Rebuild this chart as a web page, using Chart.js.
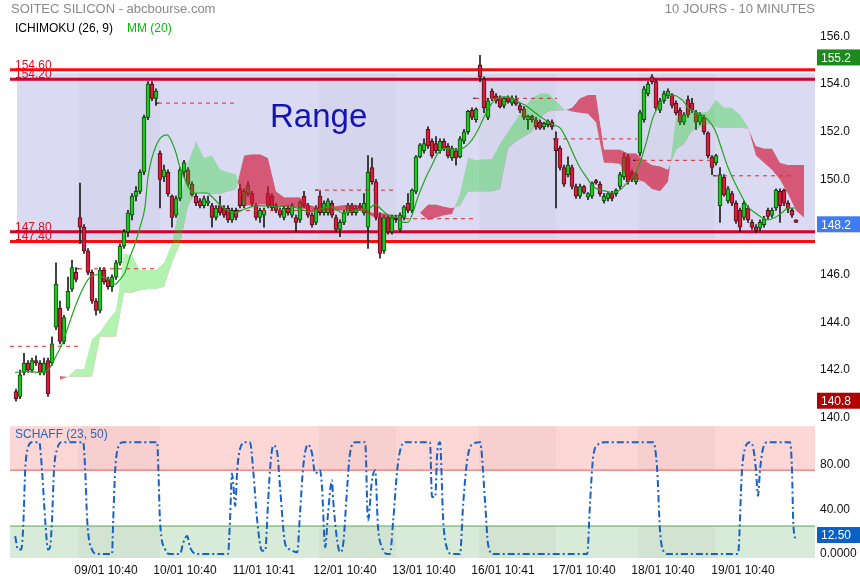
<!DOCTYPE html>
<html>
<head>
<meta charset="utf-8">
<script src="https://cdn.jsdelivr.net/npm/chart.js@4.4.1/dist/chart.umd.min.js"></script>
<style>
  body { margin: 0; background: #fff; font-family: Arial, "Liberation Sans", sans-serif; }
  #wrap { position: relative; width: 860px; height: 580px; overflow: hidden; }
  canvas { position: absolute; left: 0; }
  .t { position: absolute; white-space: nowrap; line-height: 1; z-index: 3; }
</style>
</head>
<body>
<div id="wrap">
  <canvas id="schaff" width="860" height="166" style="top:414px;z-index:1"></canvas>
  <canvas id="main" width="860" height="430" style="top:0;z-index:2"></canvas>
  <div class="t" style="left:11px;top:2px;font-size:13px;color:#888">SOITEC SILICON - abcbourse.com</div>
  <div class="t" style="right:45px;top:2px;font-size:13px;color:#888">10 JOURS - 10 MINUTES</div>
  <div class="t" style="left:15px;top:22px;font-size:12px;color:#000">ICHIMOKU (26, 9)</div>
  <div class="t" style="left:127px;top:22px;font-size:12px;color:#00c000">MM (20)</div>
  <div class="t" style="left:270px;top:99px;font-size:33px;color:#1414b4">Range</div>
  <div class="t" style="left:15px;top:428px;font-size:12px;color:#2a64c0">SCHAFF (23, 50)</div>
</div>
<script>
Chart.defaults.font.family = 'Arial, "Liberation Sans", sans-serif';
Chart.defaults.font.size = 12;
Chart.defaults.color = '#111';
Chart.defaults.animation = false;

// candles: [open, high, low, close], one per slot starting at slot 1
const firstSlot = 1;
const candles = [
  [141.1,141.2,140.7,140.8],[140.9,142.0,140.8,141.8],[141.9,142.7,141.8,142.3],[142.3,142.4,141.9,142.0],
  [142.0,142.5,141.9,142.4],[142.4,142.6,142.2,142.3],[142.3,142.4,141.8,141.9],[141.9,142.5,141.8,142.3],
  [142.4,142.5,140.9,141.0],[142.3,143.4,142.2,143.1],[143.8,146.5,143.7,145.6],[144.6,144.9,143.1,143.2],
  [143.2,144.3,143.1,144.2],[144.6,145.9,144.5,145.3],[145.4,146.6,145.3,146.3],[146.1,146.3,145.7,145.8],
  [148.4,149.85,147.3,148.0],[148.0,148.1,146.9,147.0],[147.0,147.1,146.0,146.1],[146.1,146.2,144.8,144.9],
  [144.9,145.0,144.3,144.5],[144.5,146.3,144.4,146.2],[146.2,146.3,145.6,145.7],[145.8,145.9,145.4,145.5],
  [145.5,146.0,145.3,145.9],[145.9,146.6,145.8,146.5],[146.5,147.3,146.4,147.2],[147.2,147.9,147.1,147.8],
  [147.8,148.7,147.6,148.6],[148.5,149.4,148.3,149.3],[149.3,149.7,149.1,149.5],[149.5,150.4,149.4,150.3],
  [150.3,152.7,150.2,152.6],[152.6,154.1,152.5,154.0],[154.0,154.1,153.3,153.4],[153.4,153.8,153.1,153.7],
  [151.1,151.2,148.8,150.0],[150.1,150.6,149.9,150.4],[150.3,150.4,149.3,149.4],[149.3,149.35,148.0,148.4],
  [148.5,149.3,148.4,149.2],[149.2,150.5,149.1,150.4],[150.3,150.8,150.1,150.7],[150.4,150.5,149.7,149.8],
  [149.8,149.9,149.3,149.35],[149.3,149.4,148.9,149.0],[149.1,149.2,148.8,148.9],[148.9,149.3,148.8,149.2],
  [149.0,149.3,148.9,149.1],[148.9,149.0,148.0,148.4],[148.4,148.9,148.3,148.8],[148.9,149.3,148.5,148.6],
  [148.8,148.9,148.4,148.5],[148.8,148.9,148.2,148.3],[148.3,148.8,148.2,148.7],[148.7,148.8,148.3,148.4],
  [149.6,149.8,148.8,148.9],[148.9,149.6,148.8,149.5],[149.4,149.9,149.3,149.75],[149.4,149.5,148.9,149.0],
  [148.9,149.0,148.3,148.4],[148.4,148.8,148.2,148.7],[148.5,148.8,148.0,148.7],[149.4,149.7,148.8,148.9],
  [149.3,149.4,148.7,148.8],[148.9,149.0,148.6,148.7],[148.7,148.8,148.4,148.5],[148.4,148.9,148.3,148.8],
  [148.8,148.9,148.5,148.6],[148.5,149.0,148.4,148.9],[148.4,148.5,147.8,148.2],[148.3,149.1,148.2,149.05],
  [149.3,149.5,148.8,148.9],[148.9,149.0,148.4,148.5],[148.5,148.6,148.0,148.1],[148.2,148.9,148.1,148.8],
  [149.3,149.5,148.5,148.6],[148.6,149.1,148.5,149.0],[148.6,149.2,148.5,149.1],[149.0,149.1,148.4,148.5],
  [148.4,148.5,147.8,147.9],[147.9,148.3,147.6,148.2],[148.2,148.7,148.1,148.6],[148.6,149.0,148.5,148.9],
  [148.9,149.0,148.5,148.6],[148.6,148.9,148.5,148.8],[148.9,149.0,148.7,148.8],[148.6,149.4,148.5,149.0],
  [148.0,151.0,147.1,150.3],[150.5,150.9,149.8,149.9],[149.9,150.0,148.3,148.4],[148.4,148.6,146.7,146.9],
  [147.0,148.5,146.9,148.4],[148.4,148.5,147.7,147.8],[147.8,148.5,147.7,148.4],[148.4,148.5,148.2,148.3],
  [147.9,148.6,147.8,148.5],[148.4,148.9,148.3,148.85],[149.0,149.4,148.6,148.7],[148.7,149.6,148.6,149.55],
  [149.5,151.0,149.4,150.95],[150.95,151.5,150.9,151.45],[151.2,151.7,151.1,151.5],[152.1,152.2,151.3,151.4],
  [151.6,151.7,150.9,151.0],[151.5,151.8,151.1,151.2],[151.2,151.7,151.1,151.6],[151.6,151.7,151.2,151.3],
  [151.4,151.5,150.9,151.0],[150.9,151.4,150.8,151.3],[151.2,151.3,150.6,150.9],[150.95,151.8,150.9,151.7],
  [151.6,152.1,151.5,152.0],[152.0,152.9,151.9,152.85],[152.9,153.0,152.5,152.6],[152.5,153.0,152.4,152.95],
  [154.8,155.2,154.1,154.3],[154.2,154.3,152.8,153.0],[152.6,153.4,152.5,153.3],[153.7,153.8,153.3,153.4],
  [153.5,153.6,153.2,153.3],[153.4,153.5,153.0,153.05],[153.1,153.45,153.0,153.4],[153.4,153.5,153.2,153.25],
  [153.2,153.5,153.1,153.4],[153.35,153.5,153.1,153.15],[153.1,153.2,152.8,152.9],[152.95,153.05,152.5,152.6],
  [152.5,152.7,152.1,152.65],[152.65,152.7,152.4,152.5],[152.5,152.6,152.1,152.2],[152.4,152.5,152.1,152.15],
  [152.2,152.4,152.1,152.35],[152.3,152.5,152.2,152.45],[152.4,152.5,152.1,152.2],[151.7,152.0,148.8,151.2],
  [151.3,151.4,150.4,150.5],[150.5,150.6,149.7,149.8],[150.2,150.95,150.1,150.6],[150.5,150.6,149.6,149.7],
  [149.7,149.8,149.2,149.3],[149.3,149.8,149.2,149.7],[149.7,149.75,149.4,149.45],[149.25,149.45,149.15,149.4],
  [149.3,149.9,149.2,149.85],[149.95,150.0,149.8,149.85],[149.8,149.9,149.3,149.4],[149.1,149.4,149.0,149.3],
  [149.2,149.45,149.1,149.4],[149.4,149.5,149.1,149.2],[149.4,149.6,149.3,149.55],[149.7,150.3,149.6,150.2],
  [150.1,151.1,150.0,150.95],[150.95,151.05,149.8,149.9],[150.3,150.4,149.9,150.0],[149.9,150.3,149.8,150.2],
  [151.1,152.9,151.0,152.8],[152.5,153.9,152.4,153.8],[153.6,154.1,153.5,154.0],[154.3,154.4,154.0,154.1],
  [154.1,154.2,152.9,153.0],[152.9,153.4,152.8,153.3],[153.3,153.7,153.2,153.6],[153.5,153.8,153.4,153.7],
  [153.55,153.6,153.0,153.1],[153.2,153.3,152.7,152.8],[152.9,153.0,152.3,152.4],[152.4,152.8,152.3,152.7],
  [153.35,153.5,152.6,152.7],[153.2,153.4,152.8,152.9],[152.8,152.9,152.1,152.4],[152.4,152.8,152.3,152.7],
  [152.6,152.7,151.9,152.0],[151.95,152.0,150.9,151.0],[150.95,151.0,150.2,150.5],[150.7,151.05,150.6,151.0],
  [148.9,150.5,148.2,150.2],[150.1,150.2,149.3,149.35],[149.1,149.7,149.0,149.6],[149.4,149.5,148.9,149.0],
  [149.0,149.1,148.15,148.25],[148.7,148.8,147.8,148.0],[148.4,149.1,148.3,149.0],[148.8,148.9,148.2,148.3],
  [148.2,148.3,147.9,148.0],[148.0,148.1,147.75,147.85],[147.95,148.3,147.85,148.2],[148.1,148.45,148.0,148.35],
  [148.7,148.8,148.35,148.45],[148.5,148.8,148.4,148.7],[148.8,149.6,148.7,149.55],[149.5,149.6,148.2,148.9],
  [149.55,149.6,148.9,149.0],[149.0,149.1,148.6,148.75],[148.7,148.8,148.4,148.5],[148.3,148.3,148.2,148.2]
];

// ichimoku cloud spans, one value every 2 slots starting at slot 0
const cloudSpanA = [null,null,null,null,null,null,
  141.6,141.72,142.05,142.05,143.3,143.6,144.1,144.5,146.9,146.8,146.2,146.2,146.2,146.5,
  147.3,149.0,150.7,151.6,150.9,151.0,150.4,150.3,150.2,148.9,148.9,148.95,148.95,148.9,148.85,
  148.85,148.8,148.75,148.7,148.7,148.7,148.7,148.7,148.7,148.65,148.45,148.4,148.4,148.45,148.5,
  148.6,148.6,148.3,148.4,148.5,148.55,149.4,150.9,150.8,150.85,150.85,151.5,152.0,152.5,153.0,
  153.4,153.6,153.6,153.3,152.95,152.85,152.8,152.75,152.4,150.7,150.7,150.65,150.0,150.0,149.9,
  149.6,149.5,149.9,152.6,152.75,152.85,152.8,152.85,153.33,153.0,153.0,152.7,152.2,151.0,150.7,
  150.4,150.0,149.4,148.7,148.4];
const cloudSpanB = [null,null,null,null,null,null,
  141.75,141.72,141.72,141.72,141.72,143.4,143.4,143.4,145.25,145.25,145.35,145.4,145.4,145.5,
  146.5,147.3,148.9,149.5,149.4,149.4,149.4,149.5,149.6,151.0,151.05,151.05,150.9,149.5,149.25,
  149.25,149.25,148.95,148.85,148.85,148.85,148.9,148.95,148.95,148.8,148.6,148.6,148.55,148.5,148.5,
  148.6,148.6,148.95,148.95,148.85,148.8,148.9,149.5,149.5,149.5,149.5,149.6,151.3,151.6,151.8,
  152.0,152.6,152.85,152.9,152.9,153.0,153.4,153.54,153.54,151.25,151.25,151.25,151.1,151.1,150.8,
  150.6,150.55,150.4,151.25,151.5,152.05,152.2,152.35,152.2,152.16,152.16,152.16,152.15,151.4,151.3,
  151.3,150.7,150.6,150.6,150.6];

// moving average MM(20): [slot, value]
const mm20 = [[0.75,141.9],[3.75,141.95],[7,141.9],[9,142.0],[10.75,142.5],[12.5,143.1],[14,143.8],
  [15.75,144.65],[17.5,145.35],[19,145.8],[21.25,146.0],[22.75,145.9],[24.5,145.8],[25.75,145.6],
  [27,145.8],[28.25,146.1],[29.5,146.75],[30.75,147.3],[32,148.0],[33.25,148.85],[34,150.1],
  [36.25,151.5],[38.75,151.87],[40.75,151.24],[42,150.5],[43.25,150.0],[44.5,149.56],[45.75,149.43],
  [48.75,149.43],[50,149.27],[52.5,148.85],[55.75,148.6],[58.25,148.76],[61.5,148.9],[66.5,148.85],
  [68.75,148.9],[71.25,148.8],[74.5,148.65],[79.5,148.85],[82.75,148.6],[86.25,148.7],[89.5,148.8],
  [90.75,148.95],[92,148.8],[93.25,148.6],[94.5,148.45],[96.25,148.4],[97.75,148.2],[99,148.2],
  [100,148.5],[101.5,149.27],[103.25,150.0],[105,150.6],[106.5,151.1],[108.25,151.3],[110,151.27],
  [111.5,151.24],[113.25,151.36],[115,151.66],[116.5,152.07],[118.25,152.7],[120,153.2],[121.5,153.4],
  [123.25,153.46],[125,153.4],[126.5,153.25],[128.25,153.12],[130,152.9],[131.5,152.7],[133.25,152.5],
  [135.25,152.3],[137,152.16],[138.75,151.66],[140.25,151.1],[142,150.5],[143.75,150.06],[145.25,149.7],
  [147,149.56],[148.75,149.5],[150.25,149.43],[152,149.56],[153.75,149.85],[155.25,150.1],[157,150.7],
  [158.75,151.66],[160.25,152.6],[162,153.2],[163.75,153.46],[165.25,153.54],[167,153.4],[168.25,153.2],
  [169,153.0],[170.75,152.83],[172.5,152.7],[174,152.5],[175.75,152.07],[177.5,151.24],[179,150.5],
  [180.75,149.85],[182.5,149.27],[184,148.85],[185.75,148.6],[187.5,148.4],[189,148.3],[190.75,148.4],
  [192.5,148.6],[194,148.8],[195.75,148.8]];

// schaff trend cycle: [slot, value]
const schaffLine = [[0.8,16],[1.5,4],[2.3,4],[2.8,24],[3.3,75],[4,95],[5,100],[6.8,100],[7.5,75],[8.3,30],
  [9,4],[9.5,6],[10,30],[10.5,75],[11.3,94],[12.5,100],[17.8,100],[18.3,75],[18.8,30],[20,4],[21.3,0],
  [25,0],[25.3,30],[25.8,75],[26.5,95],[27.8,100],[36.3,100],[36.6,75],[37,30],[38.3,4],[39.5,0],[42,0],
  [42.8,10],[43.8,16],[44.5,6],[46.3,0],[54,0],[54.5,30],[55,72],[55.3,63],[55.8,43],[56.3,75],[57,94],
  [58.3,100],[59.5,100],[60.3,75],[61.3,30],[62.5,3],[63.3,3],[64,45],[64.5,75],[65.3,97],[66.3,91],
  [67,60],[68.3,9],[69.5,4],[71.3,1.5],[72,36],[72.8,78],[74,98],[75,90],[75.8,72],[77,75],[77.5,60],
  [78.3,6],[79,36],[80,66],[80.3,48],[81.3,12],[82,1.5],[82.8,9],[83.8,60],[84.5,90],[85.8,100],
  [88.3,100],[89,30],[90,66],[90.8,75],[91.5,24],[92.5,6],[93.8,0],[94.5,0],[95.3,30],[96.3,75],[97,92],
  [98.3,100],[104.5,100],[105,51],[105.8,51],[106.3,90],[107,100],[107.8,30],[108.8,4.5],[110,0],[112,0],
  [112.8,45],[113.8,84],[115,98],[117,100],[118.3,45],[119,9],[120.3,0],[143.8,0],[144.5,45],[145.3,87],
  [146.5,98],[148.3,100],[160.3,100],[161.3,75],[162,21],[162.8,3],[164,0],[181.5,0],[182.5,75],
  [183.3,95],[184.5,100],[185.3,95],[186,75],[186.5,52],[187,75],[187.8,95],[189,100],[194.5,100],
  [195,75],[195.3,30],[195.8,12.5]];

const tickSlots = [23.5, 43.25, 63, 83.25, 103, 122.75, 143, 162.75, 182.75];
const tickLabels = ['09/01 10:40','10/01 10:40','11/01 10:41','12/01 10:40','13/01 10:40',
  '16/01 10:41','17/01 10:40','18/01 10:40','19/01 10:40'];

const rangeLevels = [154.6, 154.2, 147.8, 147.4];
const rangeColors = ['#ff0a0a', '#d2002a', '#d2002a', '#ff0a0a'];
const rangeTop = 154.45, rangeBottom = 147.4, rangeStart = 1.25;

const prevClose     = [143.0, 146.25, 153.2, 148.7, 149.55, 148.35, 153.4, 151.7, 150.8, 150.15];
const prevCloseFrom = [-0.5, 16.5, 36.5, 56.5, 76.25, 96.25, 115.75, 135.75, 155.75, 175.75];
const prevCloseTo   = [16.5, 36.5, 56.5, 76.75, 96.25, 116.25, 136.25, 156.25, 175.75, 195.75];

const darkDays = [[16.5, 37], [76.75, 96], [116.75, 136], [156.5, 175.75]];

const priceBadges = [155.2, 148.2, 140.8];
const priceBadgeColors = ['#1d8a1d', '#3d7cf2', '#b20000'];
const schaffLast = 12.5;
const schaffHigh = 75, schaffLow = 25;

const xMin = -0.5, xMax = 200.75;

// ---------- main chart ----------
const up = candles.map(c => c[3] >= c[0]);
const bodyData = candles.map((c, i) => ({ x: firstSlot + i, y: [c[0], c[3]] }));
const wickData = candles.map((c, i) => ({ x: firstSlot + i, y: [c[2], c[1]] }));
const cloudPts = arr => arr.map((v, k) => ({ x: 2 * k, y: v })).filter(p => p.y !== null);

const datasets = [
  { type: 'bar', data: wickData, backgroundColor: '#1c1c1c', barThickness: 1, grouped: false, order: 5 },
  { type: 'bar', data: bodyData,
    backgroundColor: up.map(u => u ? '#22c322' : '#d21f3c'),
    borderColor: up.map(u => u ? '#124a12' : '#55101c'),
    borderWidth: 1, borderSkipped: false, barThickness: 4, grouped: false, order: 4 },
  { type: 'line', data: cloudPts(cloudSpanA), borderColor: 'rgba(0,0,0,0)', pointRadius: 0,
    fill: { target: '+1', above: 'rgba(0,215,0,0.3)', below: 'rgba(210,20,50,0.65)' }, order: 3 },
  { type: 'line', data: cloudPts(cloudSpanB), borderColor: 'rgba(0,0,0,0)', pointRadius: 0, fill: false, order: 3 },
  { type: 'line', data: mm20.map(p => ({ x: p[0], y: p[1] })), borderColor: '#1fa51f', borderWidth: 1.2,
    pointRadius: 0, cubicInterpolationMode: 'monotone', order: 1 }
];
prevClose.forEach((v, i) => {
  datasets.push({ type: 'line', data: [{ x: prevCloseFrom[i], y: v }, { x: prevCloseTo[i], y: v }],
    borderColor: '#e3262b', borderWidth: 1, borderDash: [4, 4], pointRadius: 0, order: 2 });
  if (i > 0) datasets.push({ type: 'line', data: [{ x: prevCloseFrom[i] - 0.5, y: v }, { x: prevCloseFrom[i] + 0.3, y: v }],
    borderColor: '#111', borderWidth: 1, pointRadius: 0, order: 2 });
});

const rangePlugin = {
  id: 'rangeBox',
  beforeDatasetsDraw(chart) {
    const { ctx, chartArea: a, scales: { x, y } } = chart;
    const top = y.getPixelForValue(rangeTop), bot = y.getPixelForValue(rangeBottom);
    const left = x.getPixelForValue(rangeStart);
    ctx.save();
    ctx.fillStyle = '#dadaf3';
    ctx.fillRect(left, top, a.right - left, bot - top);
    ctx.fillStyle = 'rgba(30,30,90,0.028)';
    darkDays.forEach(([s0, s1]) => {
      const x0 = x.getPixelForValue(s0), x1 = x.getPixelForValue(s1);
      ctx.fillRect(x0, top, x1 - x0, bot - top);
    });
    ctx.font = '12px Arial, "Liberation Sans", sans-serif';
    ctx.fillStyle = '#e0101e';
    ctx.textBaseline = 'alphabetic';
    rangeLevels.forEach(v => ctx.fillText(v.toFixed(2), a.left + 5, y.getPixelForValue(v) - 1));
    ctx.lineWidth = 3;
    rangeLevels.forEach((v, i) => {
      const py = y.getPixelForValue(v);
      ctx.strokeStyle = rangeColors[i];
      ctx.beginPath(); ctx.moveTo(a.left, py); ctx.lineTo(a.right, py); ctx.stroke();
    });
    ctx.restore();
  },
  afterDraw(chart) {
    const { ctx, chartArea: a, scales: { y } } = chart;
    ctx.save();
    ctx.font = '12px Arial, "Liberation Sans", sans-serif';
    ctx.textBaseline = 'middle';
    priceBadges.forEach((v, i) => {
      const py = y.getPixelForValue(v) + 2;
      ctx.fillStyle = priceBadgeColors[i];
      ctx.fillRect(a.right + 2, py - 8, 45, 16);
      ctx.fillStyle = '#fff';
      ctx.fillText(v.toFixed(1), a.right + 6, py + 1);
    });
    ctx.restore();
  }
};

new Chart(document.getElementById('main'), {
  type: 'bar',
  data: { datasets },
  options: {
    responsive: false,
    layout: { autoPadding: false, padding: { top: 28, left: 10, right: 0, bottom: 12 } },
    plugins: { legend: { display: false }, tooltip: { enabled: false } },
    scales: {
      x: { type: 'linear', min: xMin, max: xMax, offset: false, display: false },
      y: {
        position: 'right', min: 140, max: 156.35,
        grid: { display: false, drawTicks: false }, border: { display: false },
        ticks: { stepSize: 2, includeBounds: false, padding: 5, color: '#111',
          callback: v => v.toFixed(1) },
        afterFit: s => { s.width = 45; }
      }
    }
  },
  plugins: [rangePlugin]
});

// ---------- schaff panel ----------
const schaffPlugin = {
  id: 'schaffZones',
  beforeDatasetsDraw(chart) {
    const { ctx, chartArea: a, scales: { x, y } } = chart;
    const yHi = y.getPixelForValue(schaffHigh), yLo = y.getPixelForValue(schaffLow);
    ctx.save();
    ctx.fillStyle = '#fdd6d6';
    ctx.fillRect(a.left, a.top, a.width, yHi - a.top);
    ctx.fillStyle = '#d8ebd8';
    ctx.fillRect(a.left, yLo, a.width, a.bottom - yLo);
    ctx.fillStyle = 'rgba(60,0,0,0.03)';
    darkDays.forEach(([s0, s1]) => {
      const x0 = x.getPixelForValue(s0), x1 = x.getPixelForValue(s1);
      ctx.fillRect(x0, a.top, x1 - x0, yHi - a.top);
      ctx.fillRect(x0, yLo, x1 - x0, a.bottom - yLo);
    });
    ctx.lineWidth = 1;
    ctx.strokeStyle = '#f05454';
    ctx.beginPath(); ctx.moveTo(a.left, yHi); ctx.lineTo(a.right, yHi); ctx.stroke();
    ctx.strokeStyle = '#52aa52';
    ctx.beginPath(); ctx.moveTo(a.left, yLo); ctx.lineTo(a.right, yLo); ctx.stroke();
    ctx.restore();
  },
  afterDraw(chart) {
    const { ctx, chartArea: a, scales: { y } } = chart;
    const py = y.getPixelForValue(schaffLast) - 5;
    ctx.save();
    ctx.fillStyle = '#0a60c4';
    ctx.fillRect(a.right + 2, py - 8, 45, 16);
    ctx.fillStyle = '#fff';
    ctx.font = '12px Arial, "Liberation Sans", sans-serif';
    ctx.textBaseline = 'middle';
    ctx.fillText(schaffLast.toFixed(2), a.right + 6, py + 1);
    ctx.restore();
  }
};

new Chart(document.getElementById('schaff'), {
  type: 'line',
  data: {
    datasets: [{
      data: schaffLine.map(p => ({ x: p[0], y: p[1] })),
      borderColor: '#1762c4', borderWidth: 2, borderDash: [7, 3, 2, 3],
      pointRadius: 0, cubicInterpolationMode: 'monotone'
    }]
  },
  options: {
    responsive: false,
    layout: { autoPadding: false, padding: { top: 12, left: 10, right: 0, bottom: 0 } },
    plugins: { legend: { display: false }, tooltip: { enabled: false } },
    scales: {
      x: {
        type: 'linear', min: xMin, max: xMax, offset: false,
        grid: { display: false, drawTicks: false }, border: { display: false },
        afterBuildTicks: s => { s.ticks = tickSlots.map(v => ({ value: v })); },
        ticks: { autoSkip: false, maxRotation: 0, padding: 5, color: '#111',
          callback: (v, i) => tickLabels[i] },
        afterFit: s => { s.height = 22; }
      },
      y: {
        position: 'right', min: -3.57, max: 114.3,
        grid: { display: false, drawTicks: false }, border: { display: false },
        afterBuildTicks: s => { s.ticks = [0, 40, 80].map(v => ({ value: v })); },
        ticks: { padding: 5, color: '#111', callback: v => v === 0 ? '0.0000' : v.toFixed(2) },
        afterFit: s => { s.width = 45; }
      }
    }
  },
  plugins: [schaffPlugin]
});
</script>
</body>
</html>
